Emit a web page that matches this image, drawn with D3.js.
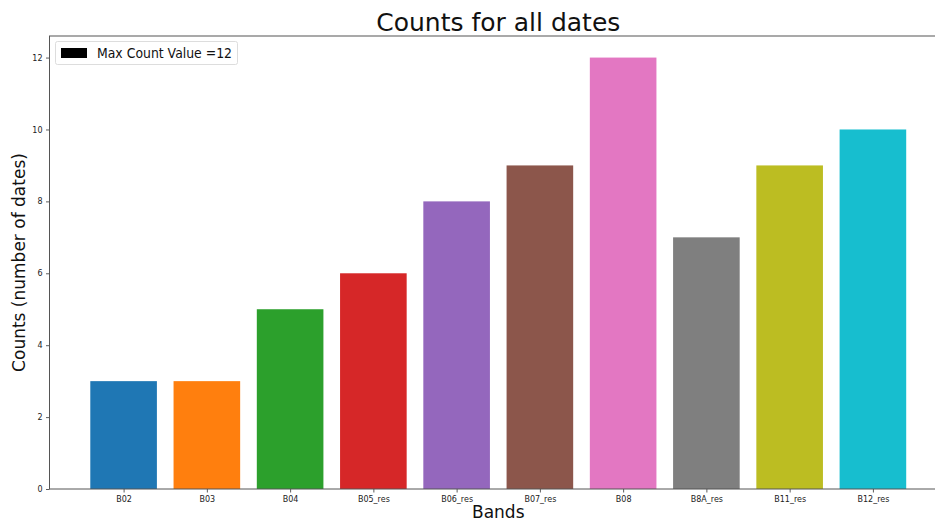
<!DOCTYPE html>
<html><head><meta charset="utf-8">
<script src="https://cdn.jsdelivr.net/npm/d3@7"></script>
<style>body{margin:0;background:#fff}svg{display:block;font-family:"DejaVu Sans",sans-serif}</style>
</head><body><svg id="c" width="935" height="522"></svg>
<script>
const categories = ["B02","B03","B04","B05_res","B06_res","B07_res","B08","B8A_res","B11_res","B12_res"];
const counts = [3,3,5,6,8,9,12,7,9,10];
const colors = ["#1f77b4","#ff7f0e","#2ca02c","#d62728","#9467bd","#8c564b","#e377c2","#7f7f7f","#bcbd22","#17becf"];
const yTicks = [0,2,4,6,8,10,12];
const legendLabel = "Max Count Value =" + d3.max(counts);

const svg = d3.select("#c");
const L = 49.5, R = 947, T = 36, B = 489;
const x = d3.scaleLinear().domain([-0.89, 9.89]).range([L, R]);
const y = d3.scaleLinear().domain([0, 12.6]).range([B, T]);
const bw = x(0.8) - x(0);

svg.selectAll("rect.bar").data(counts).join("rect").attr("class","bar")
  .attr("x",(d,i)=>x(i-0.4)).attr("width",bw)
  .attr("y",d=>y(d)).attr("height",d=>B-y(d))
  .attr("fill",(d,i)=>colors[i]);

const yAxis = d3.axisLeft(y).tickValues(yTicks).tickSize(3.5).tickPadding(3.5).tickFormat(d3.format("d"));
const gy = svg.append("g").attr("transform",`translate(${L},0)`).call(yAxis);
const xAxis = d3.axisBottom(x).tickValues(d3.range(categories.length)).tickFormat(i=>categories[i]).tickSize(3.5).tickPadding(3.5);
const gx = svg.append("g").attr("transform",`translate(0,${B})`).call(xAxis);
[gx,gy].forEach(g=>{
  g.select(".domain").remove();
  g.selectAll(".tick line").attr("stroke","#333").attr("stroke-width",0.8);
  g.selectAll(".tick text").attr("font-size",8).attr("fill","#222").attr("font-family","DejaVu Sans");
});
// spines
svg.append("rect").attr("x",L).attr("y",T).attr("width",R-L).attr("height",B-T)
  .attr("fill","none").attr("stroke","#555").attr("stroke-width",1);

svg.append("text").attr("x",(L+R)/2).attr("y",31).attr("text-anchor","middle")
  .attr("font-size",25).attr("fill","#111").text("Counts for all dates");
svg.append("text").attr("x",(L+R)/2).attr("y",518).attr("text-anchor","middle")
  .attr("font-size",17).attr("fill","#111").text("Bands");
svg.append("text").attr("transform",`translate(25,${(T+B)/2}) rotate(-90)`).attr("text-anchor","middle")
  .attr("font-size",17).attr("fill","#111").text("Counts (number of dates)");

const lg = svg.append("g");
lg.append("rect").attr("x",55.5).attr("y",41.5).attr("width",182).attr("height",23).attr("rx",2)
  .attr("fill","#fff").attr("fill-opacity",0.8).attr("stroke","#ddd");
lg.append("rect").attr("x",61).attr("y",48).attr("width",26).attr("height",10).attr("fill","#000");
lg.append("text").attr("x",97).attr("y",57.5).attr("font-size",13.5).attr("textLength",135)
  .attr("lengthAdjust","spacingAndGlyphs").attr("fill","#111").text(legendLabel);
</script></body></html>
